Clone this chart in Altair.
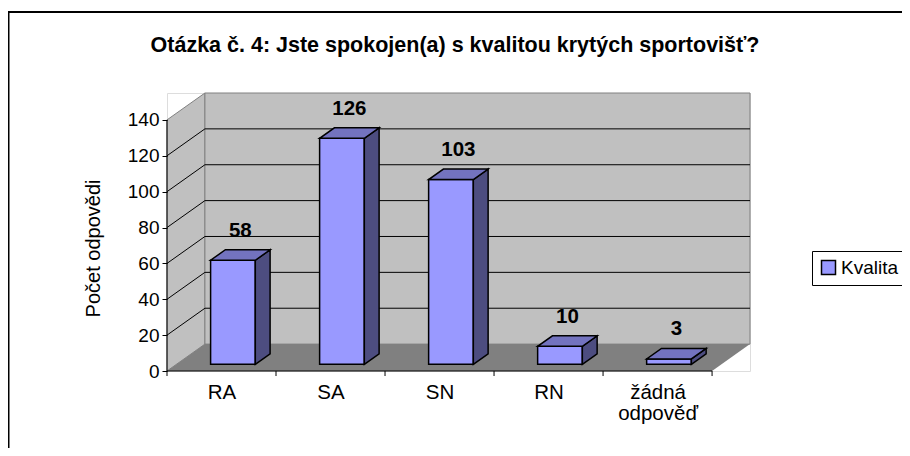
import altair as alt
import pandas as pd

# ---------------- data ----------------
categories = ["RA", "SA", "SN", "RN", "žádná odpověď"]
values = [58, 126, 103, 10, 3]
y_ticks = [0, 20, 40, 60, 80, 100, 120, 140]
series_name = "Kvalita"
title_text = "Otázka č. 4: Jste spokojen(a) s kvalitou krytých sportovišť?"
y_title = "Počet odpovědi"

# ---------------- pseudo-3D geometry (in data units) ----------------
DX = 0.348   # depth shift along x (category units)
DY = 15.0    # depth shift along y (value units)
F = 0.25     # depth of bar front face
B = 0.64     # depth of bar back face
W = 0.41     # bar width (category units)
SHIFT = 0.018  # small extra sideways shift of the bars
YMAX = y_ticks[-1]
N = len(categories)
FONT = "Liberation Sans"

xs = alt.Scale(domain=[-0.5, N - 0.5 + DX], nice=False, zero=False)
ys = alt.Scale(domain=[0, YMAX + DY], nice=False, zero=False)

label_expr = "".join(
    f"datum.value == {i} ? {repr(c.split(' ')) if ' ' in c else repr(c)} : " for i, c in enumerate(categories)
) + "''"

X_AX = alt.Axis(values=list(range(N)), labelExpr=label_expr, ticks=False, domain=False, grid=False,
                labelFont=FONT, labelFontSize=20.5, labelColor="black", labelPadding=11,
                labelLineHeight=21.5, labelBaseline="top", title=None, zindex=1)
Y_AX = alt.Axis(values=y_ticks, tickSize=5, tickColor="black", domain=False, grid=False,
                labelFont=FONT, labelFontSize=19, labelColor="black", labelPadding=3,
                title=y_title, titleFont=FONT, titleFontSize=20, titleFontWeight="normal",
                titleColor="black", titleAngle=-90, titleX=-74, titleY=155, titleAlign="center",
                titleBaseline="middle", zindex=1)


def X(field="x"):
    return alt.X(f"{field}:Q", scale=xs, axis=X_AX)


def Y(field="y"):
    return alt.Y(f"{field}:Q", scale=ys, axis=Y_AX)


# left side wall
left_wall = pd.DataFrame({"x": [-0.5, -0.5 + DX], "y": [0, DY], "y2": [YMAX, YMAX + DY]})
l_left = alt.Chart(left_wall).mark_area(fill="#C0C0C0", stroke="#808080", strokeWidth=1).encode(
    x=X(), y=Y(), y2="y2:Q",
)

# back wall
back = pd.DataFrame({"x": [-0.5 + DX], "x2": [N - 0.5 + DX], "y": [DY], "y2": [YMAX + DY]})
l_back = alt.Chart(back).mark_rect(fill="#C0C0C0", stroke="#808080", strokeWidth=1).encode(
    x=X(), x2="x2:Q", y=Y(), y2="y2:Q",
)

# floor
floor = pd.DataFrame({
    "x": [-0.5, -0.5 + DX, N - 0.5, N - 0.5 + DX],
    "y": [0, 0, 0, DY],
    "y2": [0, DY, DY, DY],
})
l_floor = alt.Chart(floor).mark_area(fill="#808080").encode(
    x=X(), y=Y(), y2="y2:Q",
)

# gridlines on back wall and side wall
grid_vals = y_ticks[1:-1]
grid_back = pd.DataFrame({"x": [-0.5 + DX] * len(grid_vals), "x2": [N - 0.5 + DX] * len(grid_vals),
                          "y": [v + DY for v in grid_vals]})
l_grid_back = alt.Chart(grid_back).mark_rule(color="black", strokeWidth=1).encode(
    x=X(), x2="x2:Q", y=Y(),
)
grid_side = pd.DataFrame({"x": [-0.5] * len(grid_vals), "x2": [-0.5 + DX] * len(grid_vals),
                          "y": grid_vals, "y2": [v + DY for v in grid_vals]})
l_grid_side = alt.Chart(grid_side).mark_rule(color="black", strokeWidth=1).encode(
    x=X(), x2="x2:Q", y=Y(), y2="y2:Q",
)

# axis lines and category ticks
axes_df = pd.DataFrame({"x": [-0.5, -0.5], "x2": [-0.5, N - 0.5], "y": [0, 0], "y2": [YMAX, 0]})
l_axes = alt.Chart(axes_df).mark_rule(color="black", strokeWidth=1).encode(
    x=X(), x2="x2:Q", y=Y(), y2="y2:Q",
)
ticks_df = pd.DataFrame({"x": [i - 0.5 for i in range(N + 1)], "y": [0.0] * (N + 1),
                         "y2": [-2.8] * (N + 1)})
l_ticks = alt.Chart(ticks_df).mark_rule(color="black", strokeWidth=1).encode(
    x=X(), y=Y(), y2="y2:Q",
)

# bars
front_rows, side_rows, top_rows, lab_rows = [], [], [], []
for i, (c, v) in enumerate(zip(categories, values)):
    xl = i + SHIFT + F * DX - W / 2
    xr = i + SHIFT + F * DX + W / 2
    ddx = (B - F) * DX
    ddy = (B - F) * DY
    b0 = F * DY
    T = b0 + v
    front_rows.append({"cat": c, "x": xl, "x2": xr, "y": b0, "y2": T, "series": series_name})
    side_rows += [
        {"cat": c, "x": xr, "y": b0, "y2": T},
        {"cat": c, "x": xr + ddx, "y": b0 + ddy, "y2": T + ddy},
    ]
    top_rows += [
        {"cat": c, "x": xl, "y": T, "y2": T},
        {"cat": c, "x": xl + ddx, "y": T, "y2": T + ddy},
        {"cat": c, "x": xr, "y": T, "y2": T + ddy},
        {"cat": c, "x": xr + ddx, "y": T + ddy, "y2": T + ddy},
    ]
    lab_rows.append({"cat": c, "x": i + SHIFT + F * DX + ddx / 2, "y": T + ddy, "val": v})

l_front = alt.Chart(pd.DataFrame(front_rows)).mark_rect(stroke="black", strokeWidth=1.5, opacity=1).encode(
    x=X(), x2="x2:Q", y=Y(), y2="y2:Q",
    color=alt.Color("series:N", scale=alt.Scale(domain=[series_name], range=["#9999FF"]),
                    legend=alt.Legend(title=None, orient="none", legendX=645, legendY=158,
                                      strokeColor="black", fillColor="white", padding=7,
                                      symbolType="square", symbolSize=196, symbolStrokeColor="black",
                                      symbolStrokeWidth=1.5, symbolOpacity=1, labelFont=FONT,
                                      labelFontSize=19, labelColor="black", labelOffset=3)),
)
l_side = alt.Chart(pd.DataFrame(side_rows)).mark_area(fill="#4D4D80", stroke="black", strokeWidth=1.5,
                                                     opacity=1).encode(
    x=X(), y=Y(), y2="y2:Q", detail="cat:N",
)
l_top = alt.Chart(pd.DataFrame(top_rows)).mark_area(fill="#7373BF", stroke="black", strokeWidth=1.5,
                                                   opacity=1).encode(
    x=X(), y=Y(), y2="y2:Q", detail="cat:N",
)
l_labels = alt.Chart(pd.DataFrame(lab_rows)).mark_text(
    font=FONT, fontSize=20.5, fontWeight="bold", color="black", baseline="alphabetic", dy=-13
).encode(
    x=X(), y=Y(), text="val:Q",
)

# chart title (drawn as text so that the outer frame does not push it away)
l_title = alt.Chart(pd.DataFrame({"t": [title_text]})).mark_text(
    font=FONT, fontSize=21.5, fontWeight="bold", color="black", baseline="alphabetic", align="center"
).encode(
    x=alt.value(288), y=alt.value(-41), text="t:N",
)

# outer chart frame
frame = alt.Chart(pd.DataFrame({"a": [0]})).mark_rect(fillOpacity=0, stroke="black", strokeWidth=2).encode(
    x=alt.value(-158.5), x2=alt.value(760), y=alt.value(-81), y2=alt.value(380),
)

chart = alt.layer(
    l_left, l_back, l_floor, l_grid_back, l_grid_side, l_axes, l_ticks,
    l_front, l_side, l_top, l_labels, l_title, frame
).properties(
    width=583, height=278,
    autosize=alt.AutoSizeParams(type="none"),
    padding={"left": 159, "top": 85, "right": 152, "bottom": 77},
).configure_view(stroke=None).configure(background="white")

chart.save("out.html", embed_options={"renderer": "svg", "actions": False})
